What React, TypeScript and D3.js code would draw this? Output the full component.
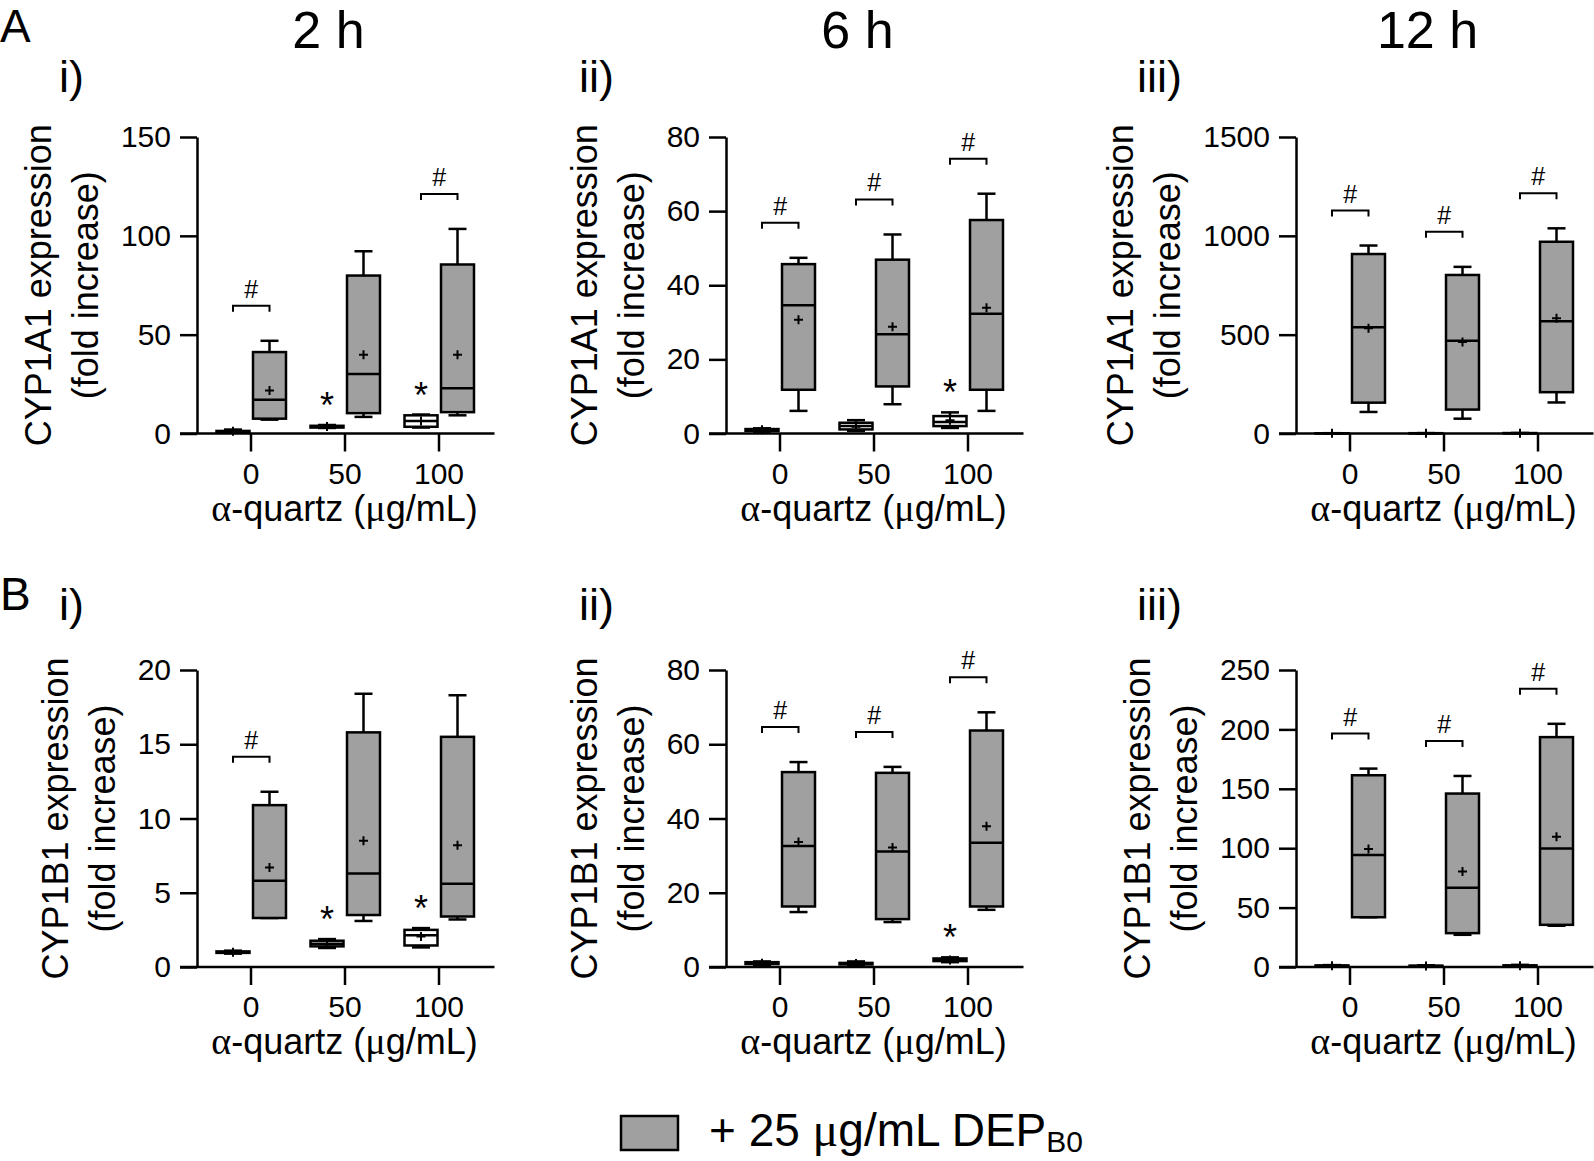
import React, { useEffect, useRef } from 'react';
import * as d3 from 'd3';

const W = 1594;
const H = 1161;

// x categories (alpha-quartz dose)
const doses = ['0', '50', '100'];
const hourTitles = ['2 h', '6 h', '12 h'];
const panelTags = ['i)', 'ii)', 'iii)'];
const rowLetters = ['A', 'B'];
const geneLabels = ['CYP1A1 expression', 'CYP1B1 expression'];

// y ticks per panel
const ticksA = [[0, 50, 100, 150], [0, 20, 40, 60, 80], [0, 500, 1000, 1500]];
const ticksB = [[0, 5, 10, 15, 20], [0, 20, 40, 60, 80], [0, 50, 100, 150, 200, 250]];

// box stats per dose: [min, q1, median, q3, max, mean]
// A) CYP1A1
const a1Ctrl = [[0.5, 0.8, 1.0, 1.3, 2.0, 1.1], [2.8, 3.0, 3.5, 3.9, 4.3, 3.6], [3.0, 3.4, 6.3, 9.2, 9.6, 6.3]];
const a1Dep = [[7.0, 7.5, 17.1, 41.2, 46.9, 21.7], [8.4, 10.3, 30.1, 79.9, 92.2, 39.8], [9.2, 10.8, 22.9, 85.5, 103.5, 39.8]];
const a2Ctrl = [[0.5, 0.7, 1.0, 1.2, 1.4, 1.0], [0.7, 1.1, 2.0, 2.9, 3.6, 1.8], [1.5, 2.0, 3.1, 4.7, 5.7, 3.6]];
const a2Dep = [[6.1, 11.8, 34.6, 45.7, 47.4, 30.7], [7.9, 12.7, 26.8, 46.9, 53.7, 28.8], [6.1, 11.8, 32.3, 57.6, 64.7, 33.9]];
const a3Ctrl = [[0.5, 0.8, 1.0, 1.3, 1.6, 1.0], [0.6, 0.9, 1.2, 1.6, 2.0, 1.3], [0.8, 1.2, 1.6, 2.2, 2.6, 1.7]];
const a3Dep = [[109, 156, 537, 908, 951, 532], [75, 121, 469, 802, 843, 463], [157, 209, 568, 970, 1038, 583]];
// B) CYP1B1
const b1Ctrl = [[0.9, 0.95, 1.0, 1.05, 1.1, 1.0], [1.28, 1.39, 1.57, 1.77, 1.88, 1.55], [1.32, 1.45, 2.13, 2.5, 2.62, 2.06]];
const b1Dep = [[3.3, 3.3, 5.8, 10.9, 11.8, 6.7], [3.1, 3.5, 6.3, 15.8, 18.4, 8.5], [3.2, 3.4, 5.6, 15.5, 18.3, 8.2]];
const b2Ctrl = [[0.6, 0.8, 1.0, 1.3, 1.5, 1.0], [0.6, 0.7, 0.9, 1.1, 1.5, 0.95], [1.3, 1.6, 1.9, 2.3, 2.6, 1.9]];
const b2Dep = [[14.8, 16.3, 32.6, 52.5, 55.2, 33.7], [12.1, 12.9, 31.1, 52.3, 53.9, 32.2], [15.4, 16.3, 33.5, 63.7, 68.6, 37.9]];
const b3Ctrl = [[0.6, 0.8, 1.0, 1.3, 1.6, 1.0], [0.5, 0.7, 0.9, 1.1, 1.4, 0.9], [0.6, 0.9, 1.1, 1.4, 1.8, 1.1]];
const b3Dep = [[41.9, 41.9, 94.2, 161.4, 167, 99.3], [27.1, 28.5, 66.8, 146, 160.8, 80.3], [34.7, 35.5, 99.8, 193.5, 204.7, 109.6]];

// significance marks per dose: * vs control, # vs without DEP
const starsA = [[false, true, true], [false, false, true], [false, false, false]];
const hashA = [[true, false, true], [true, true, true], [true, true, true]];
const starsB = [[false, true, true], [false, false, true], [false, false, false]];
const hashB = [[true, false, false], [true, true, true], [true, true, true]];

const FONT = '"Liberation Sans", Arial, Helvetica, sans-serif';
const GREEK = '"Liberation Serif", "DejaVu Serif", serif';

function App() {
  const ref = useRef(null);

  useEffect(() => {
    document.body.style.margin = '0';
    const svg = d3.select(ref.current);
    svg.selectAll('*').remove();
    svg.append('rect').attr('width', W).attr('height', H).attr('fill', '#fff');

    const axisXs = [197, 726, 1296];
    const rowTop = [137, 670];
    const rowZero = [433.5, 967];

    const rows = [
      { ticks: ticksA, ctrl: [a1Ctrl, a2Ctrl, a3Ctrl], dep: [a1Dep, a2Dep, a3Dep], stars: starsA, hash: hashA },
      { ticks: ticksB, ctrl: [b1Ctrl, b2Ctrl, b3Ctrl], dep: [b1Dep, b2Dep, b3Dep], stars: starsB, hash: hashB }
    ];

    rows.forEach((row, r) => {
      const top = rowTop[r];
      const zero = rowZero[r];
      // row letter
      svg.append('text').attr('x', 0).attr('y', r === 0 ? 42 : 610)
        .attr('font-family', FONT).attr('font-size', 46).text(rowLetters[r]);

      row.ticks.forEach((ticks, c) => {
        const ax = axisXs[c];
        const yMax = ticks[ticks.length - 1];
        const y = d3.scaleLinear().domain([0, yMax]).range([zero, top]);
        const x = d3.scalePoint().domain(doses).range([ax + 53.5, ax + 241.5]);
        const g = svg.append('g');

        // panel tag + hour title
        g.append('text').attr('x', [59, 579, 1137][c]).attr('y', r === 0 ? 92 : 620)
          .attr('font-family', FONT).attr('font-size', 45).text(panelTags[c]);
        if (r === 0) {
          g.append('text').attr('x', x('50') - 16).attr('y', 48).attr('text-anchor', 'middle')
            .attr('font-family', FONT).attr('font-size', 52).text(hourTitles[c]);
        }

        // y axis
        g.append('g').attr('transform', `translate(${ax},0)`)
          .call(d3.axisLeft(y).tickValues(ticks).tickSize(17).tickSizeOuter(0).tickPadding(9).tickFormat(d3.format('d')))
          .attr('font-family', FONT).attr('font-size', 30)
          .call(s => s.selectAll('path,line').attr('stroke', '#000').attr('stroke-width', 2.5))
          .call(s => s.selectAll('text').attr('fill', '#000'));

        // x axis
        g.append('line').attr('x1', ax - 17).attr('x2', ax + 297.5).attr('y1', zero).attr('y2', zero)
          .attr('stroke', '#000').attr('stroke-width', 2.5);
        g.append('g').attr('transform', `translate(0,${zero})`)
          .call(d3.axisBottom(x).tickSize(18).tickSizeOuter(0).tickPadding(11))
          .attr('font-family', FONT).attr('font-size', 30)
          .call(s => s.select('.domain').remove())
          .call(s => s.selectAll('line').attr('stroke', '#000').attr('stroke-width', 2.5))
          .call(s => s.selectAll('text').attr('fill', '#000'));

        const xt = g.append('text').attr('x', x('50')).attr('y', zero + 87).attr('text-anchor', 'middle')
          .attr('font-family', FONT).attr('font-size', 36);
        xt.append('tspan').attr('font-family', GREEK).attr('font-size', 38).text('α');
        xt.append('tspan').text('-quartz (');
        xt.append('tspan').attr('font-family', GREEK).attr('font-size', 38).text('μ');
        xt.append('tspan').text('g/mL)');

        // y title, two lines
        const labW = String(yMax).length * 0.556 * 30;
        const off = 17 + 9 + labW + 23;
        const yMid = (top + zero) / 2;
        [geneLabels[r], '(fold increase)'].forEach((t, k) => {
          g.append('text')
            .attr('transform', `translate(${ax - off - (k === 0 ? 47 : 0)},${yMid}) rotate(-90)`)
            .attr('text-anchor', 'middle').attr('font-family', FONT).attr('font-size', 36).text(t);
        });

        // boxes
        const series = [
          { data: row.ctrl[c], dx: -17.5, fill: '#fff' },
          { data: row.dep[c], dx: 19, fill: '#a0a0a0' }
        ];
        series.forEach(sr => {
          sr.data.forEach((st, i) => {
            const cx = x(doses[i]) + sr.dx;
            const [mn, q1, md, q3, mx, mean] = st;
            const bw = 33;
            const cw = 18;
            const bg = g.append('g').attr('stroke', '#000').attr('stroke-width', 2.5);
            bg.append('line').attr('x1', cx).attr('x2', cx).attr('y1', y(mx)).attr('y2', y(mn));
            bg.append('line').attr('x1', cx - cw / 2).attr('x2', cx + cw / 2).attr('y1', y(mx)).attr('y2', y(mx));
            bg.append('line').attr('x1', cx - cw / 2).attr('x2', cx + cw / 2).attr('y1', y(mn)).attr('y2', y(mn));
            bg.append('rect').attr('x', cx - bw / 2).attr('y', y(q3)).attr('width', bw)
              .attr('height', Math.max(0.1, y(q1) - y(q3))).attr('fill', sr.fill);
            bg.append('line').attr('x1', cx - bw / 2).attr('x2', cx + bw / 2).attr('y1', y(md)).attr('y2', y(md));
            bg.append('path').attr('stroke-width', 2)
              .attr('d', `M${cx - 4.5},${y(mean)}H${cx + 4.5}M${cx},${y(mean) - 4.5}V${y(mean) + 4.5}`);
          });
        });

        // significance marks
        doses.forEach((d, i) => {
          const c0 = x(d) - 17.5;
          const c1 = x(d) + 19;
          if (row.stars[c][i]) {
            const cy = y(row.ctrl[c][i][4]) - 27;
            g.append('text').attr('x', c0).attr('y', cy + 20).attr('text-anchor', 'middle')
              .attr('font-family', FONT).attr('font-size', 36).text('*');
          }
          if (row.hash[c][i]) {
            const bt = Math.min(y(row.dep[c][i][4]), y(row.ctrl[c][i][4])) - 35;
            g.append('path').attr('fill', 'none').attr('stroke', '#000').attr('stroke-width', 2)
              .attr('d', `M${c0},${bt + 6}V${bt}H${c1}V${bt + 6}`);
            g.append('text').attr('x', (c0 + c1) / 2).attr('y', bt - 8).attr('text-anchor', 'middle')
              .attr('font-family', FONT).attr('font-size', 25).text('#');
          }
        });
      });
    });

    // legend
    const lg = svg.append('g');
    lg.append('rect').attr('x', 621).attr('y', 1116).attr('width', 57).attr('height', 34)
      .attr('fill', '#a0a0a0').attr('stroke', '#000').attr('stroke-width', 2.5);
    const lt = lg.append('text').attr('x', 709).attr('y', 1146).attr('font-family', FONT).attr('font-size', 46);
    lt.append('tspan').text('+ 25 ');
    lt.append('tspan').attr('font-family', GREEK).attr('font-size', 48).text('μ');
    lt.append('tspan').text('g/mL DEP');
    lt.append('tspan').attr('font-size', 30).attr('dy', 6).text('B0');
  }, []);

  return <svg ref={ref} width={W} height={H} style={{ display: 'block' }} />;
}

export default App;
